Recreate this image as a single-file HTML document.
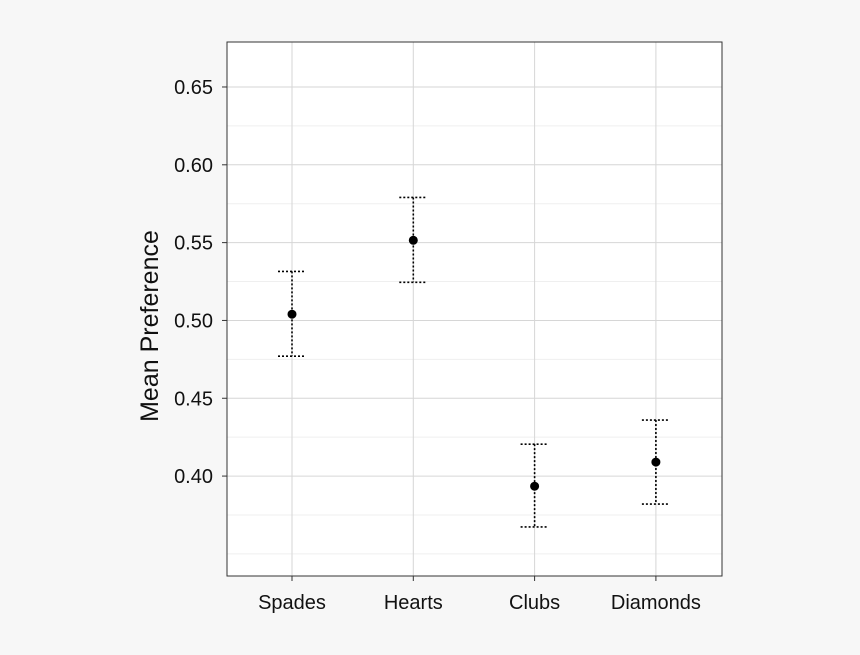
<!DOCTYPE html>
<html><head><meta charset="utf-8"><style>
body{margin:0;background:#f7f7f7;font-family:"Liberation Sans",sans-serif;}
svg{display:block}
</style></head><body>
<svg id="chart" width="860" height="655">
<rect x="0" y="0" width="860" height="655" fill="#f7f7f7"/>
<rect x="227" y="42" width="495" height="534" fill="#fff"/>
<g id="grid"></g><g id="marks"></g><g id="axes"></g>
<rect x="227" y="42" width="495" height="534" fill="none" stroke="#333" stroke-width="1"/>
<text x="158" y="326" transform="rotate(-90 158 326)" text-anchor="middle" font-size="25" fill="#111">Mean Preference</text>
</svg>
<script>
const categories=["Spades","Hearts","Clubs","Diamonds"];
const means=[0.504,0.5515,0.3935,0.409];
const upper=[0.5315,0.579,0.4205,0.436];
const lower=[0.477,0.5245,0.3673,0.382];
const yTicks=[0.40,0.45,0.50,0.55,0.60,0.65];
const yTickLabels=["0.40","0.45","0.50","0.55","0.60","0.65"];
const yMinor=[0.35,0.375,0.425,0.475,0.525,0.575,0.625];
const NS="http://www.w3.org/2000/svg";
const yMin=0.3358,yMax=0.6789,plotTop=42,plotBot=576,plotLeft=227,plotRight=722;
function y(v){return plotBot-(v-yMin)/(yMax-yMin)*(plotBot-plotTop);}
function x(i){return 292+i*121.3;}
function mk(tag,attrs,parent){const e=document.createElementNS(NS,tag);for(const k in attrs)e.setAttribute(k,attrs[k]);parent.appendChild(e);return e;}
const grid=document.getElementById('grid'),marks=document.getElementById('marks'),axes=document.getElementById('axes');
yMinor.forEach(v=>{const l=mk('line',{x1:plotLeft,x2:plotRight,y1:y(v),y2:y(v),stroke:'#efefef','stroke-width':1},grid);

});
yTicks.forEach((v,i)=>{const l=mk('line',{x1:plotLeft,x2:plotRight,y1:y(v),y2:y(v),stroke:'#d6d6d6','stroke-width':1},grid);


const tk=mk('line',{x1:plotLeft-5,x2:plotLeft,y1:y(v),y2:y(v),stroke:'#333'},axes);


const t=mk('text',{x:plotLeft-14,y:y(v)+7,'text-anchor':'end','font-size':20,fill:'#111'},axes);t.textContent=yTickLabels[i];

});
categories.forEach((c,i)=>{const cx=x(i);
const g=mk('line',{x1:cx,x2:cx,y1:plotTop,y2:plotBot,stroke:'#d6d6d6'},grid);


const tk=mk('line',{x1:cx,x2:cx,y1:plotBot,y2:plotBot+5,stroke:'#333'},axes);


const t=mk('text',{x:cx,y:609,'text-anchor':'middle','font-size':20,fill:'#111'},axes);t.textContent=c;


const e=mk('line',{x1:cx,x2:cx,y1:y(upper[i]),y2:y(lower[i]),stroke:'#000','stroke-width':1.6,'stroke-dasharray':'2 2'},marks);


[upper[i],lower[i]].forEach(v=>{const cap=mk('line',{x1:cx-14,x2:cx+14,y1:y(v),y2:y(v),stroke:'#000','stroke-width':1.6,'stroke-dasharray':'2 2'},marks);

});
const p=mk('circle',{cx:cx,cy:y(means[i]),r:4.5,fill:'#000'},marks);

});
</script>
</body></html>
